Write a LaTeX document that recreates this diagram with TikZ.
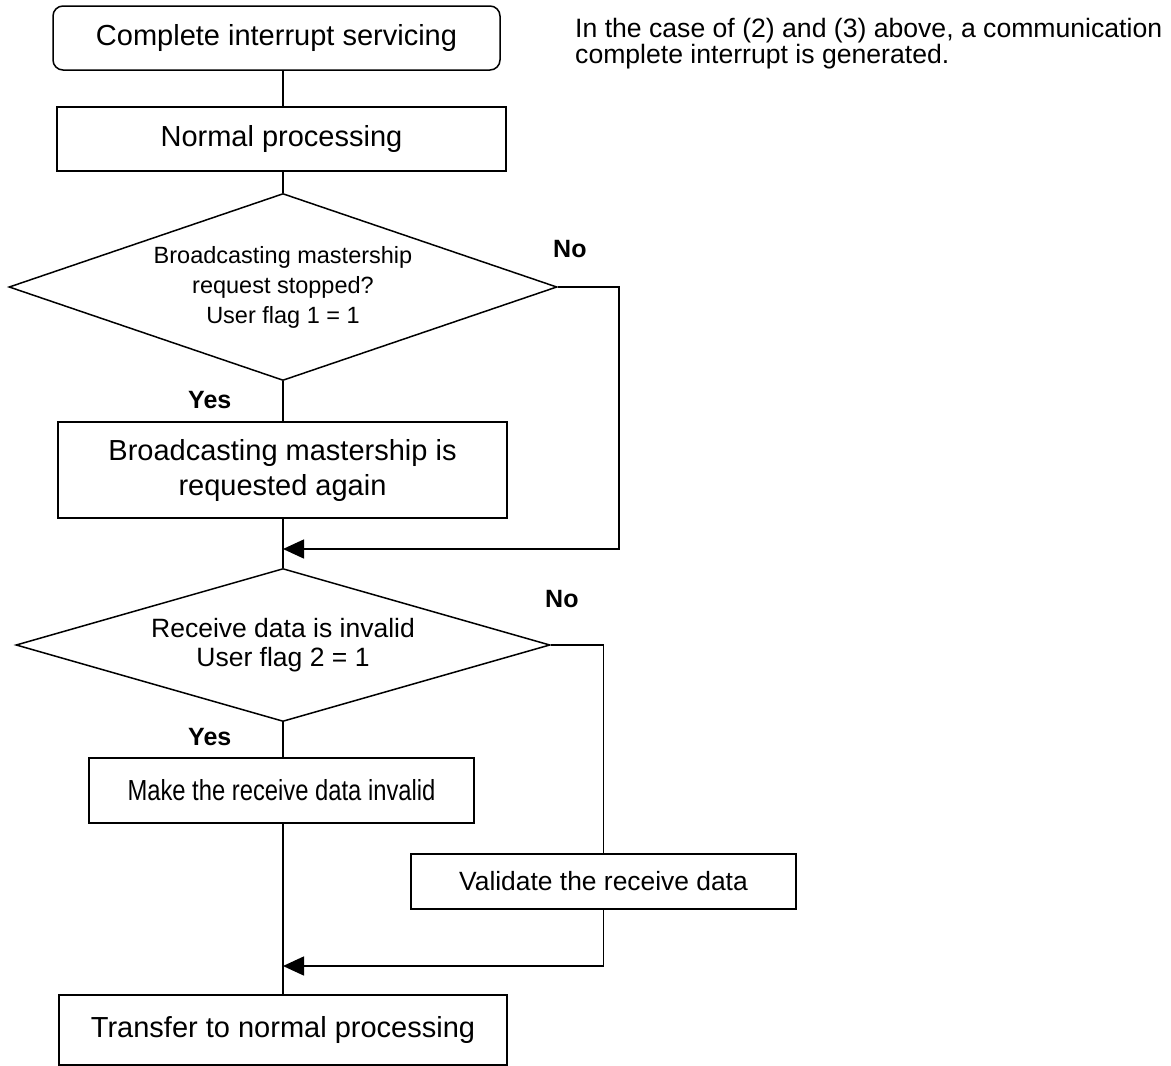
\documentclass[tikz,border=0pt]{standalone}
\usepackage{fontspec}
\setmainfont{Liberation Sans}
\newfontfamily\narrowsans[FakeStretch=0.82]{Liberation Sans}
\usetikzlibrary{shapes.geometric,arrows.meta}
\tikzset{
  flow/.style={line width=1.5pt, draw=black},
  procbox/.style={draw, line width=1.5pt, rectangle, inner sep=0pt, align=center,
    font=\fontsize{29}{35}\selectfont},
  termbox/.style={procbox, rounded corners=10pt},
  decision/.style={draw, line width=1.5pt, diamond, inner sep=0pt, align=center},
  branch/.style={font=\bfseries\fontsize{25}{30}\selectfont, inner sep=0pt, anchor=base west},
  joinarrow/.style={-{Triangle[length=21pt,width=19pt]}},
}
\begin{document}
\begin{tikzpicture}[x=1pt,y=-1pt]
  % page area
  \fill[white] (0,0) rectangle (1171,1066);
  \useasboundingbox (0,0) rectangle (1171,1066);

  % main column
  \node[termbox, minimum width=447pt, minimum height=64pt] (start) at (276.5,38)
    {Complete interrupt servicing};
  \node[procbox, minimum width=449pt, minimum height=64pt] (normal) at (281.5,139)
    {Normal processing};
  \node[decision, aspect=2.93, minimum width=548pt, minimum height=187pt,
        font=\fontsize{23.5}{30}\selectfont] (d1) at (283,287)
    {Broadcasting mastership\\request stopped?\\User flag 1 = 1};
  \node[procbox, minimum width=449pt, minimum height=96pt] (boxc) at (282.5,470)
    {Broadcasting mastership is\\requested again};
  \node[decision, aspect=3.49, minimum width=534pt, minimum height=153pt,
        font=\fontsize{26.5}{29}\selectfont] (d2) at (283,645)
    {Receive data is invalid\\User flag 2 = 1};
  \node[procbox, minimum width=385pt, minimum height=65pt,
        font=\narrowsans\fontsize{29}{35}\selectfont] (make) at (281.5,790.5)
    {Make the receive data invalid};
  \node[procbox, minimum width=385pt, minimum height=55pt,
        font=\fontsize{26.4}{30}\selectfont] (val) at (603.5,881.5)
    {Validate the receive data};
  \node[procbox, minimum width=448pt, minimum height=70pt] (xfer) at (283,1030)
    {Transfer to normal processing};

  % branch labels
  \node[branch] (no1) at (553,257) {No};
  \node[branch] (yes1) at (188,408) {Yes};
  \node[branch] (no2) at (545,607) {No};
  \node[branch] (yes2) at (188,745) {Yes};

  % side note (base anchor sits on the last line)
  \node[anchor=base west, align=left, inner sep=0pt,
        font=\fontsize{26.6}{26}\selectfont] (note) at (575,63)
    {In the case of (2) and (3) above, a communication\\complete interrupt is generated.};

  % routing points
  \coordinate (r1) at (619,287);
  \coordinate (j1) at (283,549);
  \coordinate (j2) at (283,966);

  % connectors
  \draw[flow] (start.south -| d1) -- (normal.north -| d1);
  \draw[flow] (normal.south -| d1) -- (d1.north);
  \draw[flow] (d1.south) -- (boxc.north -| d1);
  \draw[flow] (boxc.south -| d1) -- (d2.north);
  \draw[flow] (d2.south) -- (make.north -| d1);
  \draw[flow] (make.south -| d1) -- (xfer.north -| d1);
  \draw[flow, joinarrow] (d1.east) -- (r1) |- (j1);
  \draw[flow] (d2.east) -| (val.north);
  \draw[flow, joinarrow] (val.south) |- (j2);
\end{tikzpicture}
\end{document}
